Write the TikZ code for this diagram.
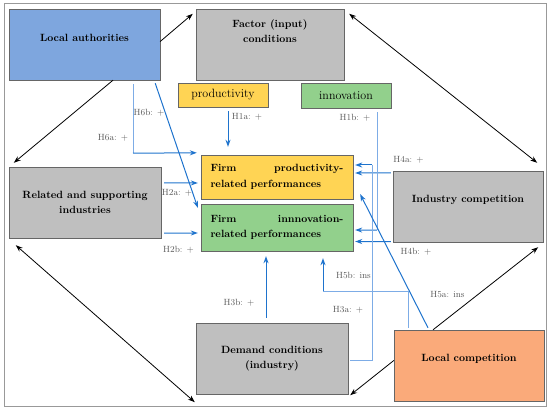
\documentclass[tikz,border=0pt]{standalone}
\usepackage{fontspec}
\usetikzlibrary{arrows.meta,positioning,calc}

\definecolor{authblue}{RGB}{126,166,222}
\definecolor{boxgrey}{RGB}{191,191,191}
\definecolor{prodyellow}{RGB}{255,212,84}
\definecolor{innogreen}{RGB}{146,208,140}
\definecolor{loccompet}{RGB}{250,170,122}
\definecolor{effectblue}{RGB}{30,115,205}
\definecolor{feedblue}{RGB}{125,172,230}

\begin{document}
\begin{tikzpicture}[
    x=1pt, y=-1pt,
    >={Stealth[length=7pt,width=5pt]},
    driver/.style={rectangle, draw=black!60, fill=boxgrey, minimum width=151pt, minimum height=71pt, align=center, font=\fontsize{10.5}{15.5}\selectfont\bfseries},
    tag/.style={rectangle, draw=black!60, minimum width=90pt, minimum height=24pt, font=\large},
    firmbox/.style={rectangle, draw=black!60, minimum width=152pt, text width=133pt, align=left, font=\fontsize{10.5}{15.5}\selectfont\bfseries},
    hyp/.style={font=\small, text=black!65, inner sep=1pt},
    link/.style={draw=black, line width=0.8pt},
    effect/.style={->, draw=effectblue, line width=1pt},
    feed/.style={draw=feedblue, line width=0.7pt}
]
    \useasboundingbox (0,0) rectangle (550,411);
    \draw[black!40, line width=1pt] (4,4) rectangle (546,407);

    % diamond of determinants
    \node[driver, fill=authblue, text depth=13pt] (la) at (84.5,44.5) {Local authorities};
    \node[driver, minimum width=148pt, text depth=27pt] (factor) at (270,44.5) {Factor (input)\\conditions};
    \node[driver, minimum width=152pt] (rel) at (85,202.5) {Related and supporting\\industries};
    \node[driver, minimum width=150pt, text depth=15pt] (ind) at (468,206.5) {Industry competition};
    \node[driver, minimum width=152pt] (dem) at (272,358.5) {Demand conditions\\(industry)};
    \node[driver, minimum width=150pt, fill=loccompet, text depth=15pt] (loc) at (469,365.5) {Local competition};

    % outcomes
    \node[tag, fill=prodyellow] (prod) at (223,95) {productivity};
    \node[tag, fill=innogreen, minimum height=25pt] (innov) at (346,95.5) {innovation};
    \node[firmbox, fill=prodyellow, minimum height=44pt] (firmp) at (277,177) {\hbox to 133pt{Firm\hfill productivity-}\\related performances};
    \node[firmbox, fill=innogreen, minimum height=47pt] (firmi) at (277,227.5) {\hbox to 133pt{Firm\hfill innnovation-}\\related performances};

    % black links
    \draw[link, ->] ($(la.east)+(0,-3)$) -- ($(factor.north west)+(-3,5)$);
    \draw[link, ->] ($(la.south)+(28.5,0)$) -- ($(rel.north west)+(5,-4)$);
    \draw[link, <->] ($(factor.north east)+(5,5)$) -- ($(ind.north east)+(-6,-8)$);
    \draw[link, <->] ($(rel.south west)+(7,7)$) -- ($(dem.south west)+(-1,8)$);
    \draw[link, ->] ($(loc.west)+(0,-5)$) -- ($(dem.south east)+(2,1)$);
    \draw[link, ->] ($(loc.north)+(-36,0)$) -- ($(ind.south east)+(-5,5)$);

    % hypotheses
    \coordinate (h6a) at ($(la.south)+(48.5,73)$);
    \coordinate (h1b) at ($(innov.south)+(31,122)$);
    \coordinate (h3a) at ($(firmp.east)+(19,-12)$);
    \coordinate (h5b) at ($(firmi.south)+(46,40)$);

    \draw[effect] ($(prod.south)+(5,4)$) -- ($(firmp.north)+(-49,-8)$);
    \draw[feed] ($(la.south)+(48.5,4)$) -- (h6a);
    \draw[effect] (h6a) -- ($(firmp.north west)+(-4,-2)$);
    \draw[effect] ($(la.south east)+(-5,3)$) -- ($(firmi.north west)+(-3,4)$);
    \draw[effect] ($(rel.north east)+(3,16)$) -- ($(firmp.west)+(-3,6)$);
    \draw[effect] ($(rel.south east)+(3,-5)$) -- ($(firmi.west)+(-3,5.5)$);
    \draw[effect] ($(dem.north)+(-6,-5)$) -- ($(firmi.south)+(-11,5)$);
    \draw[effect] ($(ind.north west)+(-2,2)$) -- ($(firmp.east)+(2,-4)$);
    \draw[effect] ($(ind.south west)+(-2,-0.5)$) -- ($(firmi.east)+(2,14)$);
    \draw[feed] ($(innov.south)+(31,4)$) -- (h1b);
    \draw[effect] (h1b) -- ($(firmi.east)+(2,2.5)$);
    \draw[feed] ($(dem.east)+(2,1.5)$) -| (h3a);
    \draw[effect] (h3a) -- ($(firmp.east)+(2,-12)$);
    \draw[effect] ($(loc.north)+(-41,-2)$) -- ($(firmp.south east)+(7,-5)$);
    \draw[feed] ($(loc.north)+(-61,-2)$) |- (h5b);
    \draw[effect] (h5b) -- ($(firmi.south)+(46,7)$);

    \node[hyp] (l1a) at (247,117) {H1a: +};
    \node[hyp] (l1b) at (355,118) {H1b: +};
    \node[hyp] (l6b) at (149,113) {H6b: +};
    \node[hyp] (l6a) at (113,138) {H6a: +};
    \node[hyp] (l2a) at (177,193) {H2a: +};
    \node[hyp] (l2b) at (178.5,250) {H2b: +};
    \node[hyp] (l3b) at (239,303) {H3b: +};
    \node[hyp] (l3a) at (348,310) {H3a: +};
    \node[hyp] (l4a) at (408.5,160) {H4a: +};
    \node[hyp] (l4b) at (416,252) {H4b: +};
    \node[hyp] (l5b) at (353.5,275) {H5b: ins};
    \node[hyp] (l5a) at (447.5,295) {H5a: ins};
\end{tikzpicture}
\end{document}
